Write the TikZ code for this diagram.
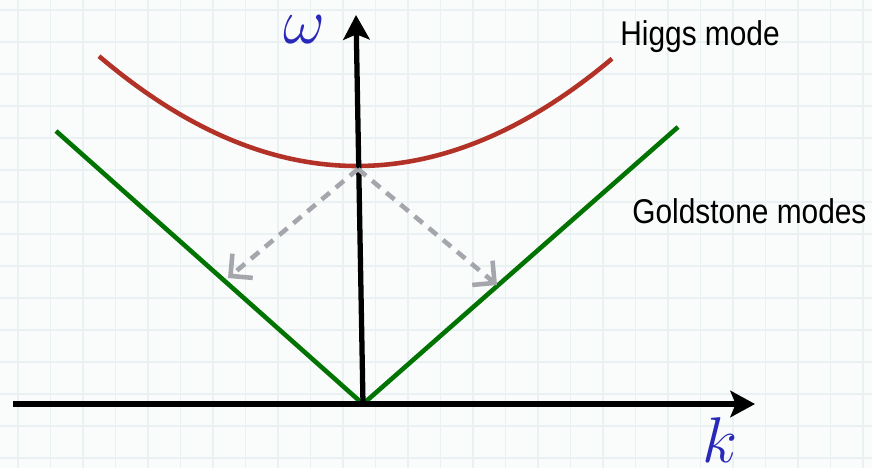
\documentclass[tikz,border=0pt]{standalone}
\usepackage{fix-cm}
\usepackage{fontspec}
\setmainfont{Liberation Sans}
\usepackage{tikz}
\usetikzlibrary{arrows.meta}
\definecolor{higgsred}{RGB}{178,50,40}
\definecolor{goldgreen}{RGB}{0,115,0}
\definecolor{hopgray}{RGB}{165,165,172}
\definecolor{symblue}{RGB}{40,40,185}
\definecolor{paper}{RGB}{250,251,251}
\definecolor{paperline}{RGB}{234,241,243}
\newcommand{\tallword}[1]{\scalebox{1}[1.15]{#1}}

\begin{document}
\begin{tikzpicture}[
  x=0.02cm, y=-0.02cm,
  axis/.style={draw=black, line width=3pt,
               -{Stealth[length=14pt,width=15pt,inset=3pt]}},
  higgs/.style={draw=higgsred, line width=2.6pt},
  gold/.style={draw=goldgreen, line width=2.6pt},
  hop/.style={draw=hopgray, line width=2.6pt, dash pattern=on 6pt off 4.5pt,
              -{Straight Barb[length=9pt,width=18pt,line width=2.6pt]}},
  sym/.style={text=symblue, inner sep=0pt},
  tag/.style={inner sep=0pt, anchor=base west, font=\fontsize{17}{20}\selectfont},
]
% background paper with faint grid
\fill[paper] (0,0) rectangle (872,468);
\useasboundingbox (0,0) rectangle (872,468);
\foreach \gx in {18,50.5,...,872} \draw[paperline, line width=0.6pt] (\gx,0) -- (\gx,468);
\foreach \gy in {10,42,...,468} \draw[paperline, line width=0.6pt] (0,\gy) -- (872,\gy);

% key points
\coordinate (O) at (363,404);
\coordinate (kstart) at (13,404);
\coordinate (ktip) at (755,404);
\coordinate (wtip) at (356,15);
\coordinate (hmin) at (358,169);
\coordinate (gl) at (56,131);
\coordinate (gr) at (678,127);
\coordinate (al) at (228,278);
\coordinate (ar) at (497,285);

% dispersion branches
\draw[gold] (gl) -- (O) -- (gr);
\draw[higgs] plot[domain=99:612, samples=80] (\x, {166 - 16.5*((\x-357)/100)^2});

% axes
\draw[axis] (kstart) -- (ktip);
\draw[axis] (O) -- (wtip);

% decay into Goldstone modes
\draw[hop] (hmin) -- (al);
\draw[hop] (hmin) -- (ar);

% labels
\node[sym] (omega) at (304,30) {\scalebox{1.6}{\fontsize{23}{26}\selectfont$\omega$}};
\node[sym] (kk) at (720,440) {\scalebox{1.6}{\fontsize{23}{26}\selectfont$k$}};
\node[tag] (higgslbl) at (620,45) {\tallword{Higgs mode}};
\node[tag] (goldlbl) at (632,223) {\tallword{Goldstone modes}};
\end{tikzpicture}
\end{document}
